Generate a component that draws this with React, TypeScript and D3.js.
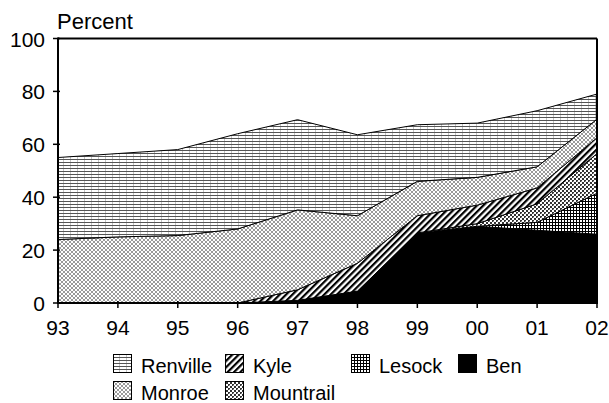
import * as d3 from 'd3';

// ---- data (values per area, bottom of stack first) ----
const years = ['93', '94', '95', '96', '97', '98', '99', '00', '01', '02'];
const ben = [0, 0, 0, 0, 1, 4.5, 26.5, 29, 27.5, 26];
const lesock = [0, 0, 0, 0, 0, 0, 0, 0, 3, 15.5];
const mountrail = [0, 0, 0, 0, 0, 0, 0, 1, 7, 15];
const kyle = [0, 0, 0, 0, 4, 10.5, 6.5, 7, 6, 6];
const monroe = [24, 25, 25.5, 28, 30.2, 18, 13, 10.5, 8, 7];
const renville = [31, 31.5, 32.5, 36, 34.1, 30.6, 21.4, 20.5, 21.2, 9.5];
const yTicks = [0, 20, 40, 60, 80, 100];

const keys = ['Ben', 'Lesock', 'Mountrail', 'Kyle', 'Monroe', 'Renville'];
const seriesValues: Record<string, number[]> = {
  Ben: ben, Lesock: lesock, Mountrail: mountrail, Kyle: kyle, Monroe: monroe, Renville: renville,
};
// legend: [name, column, row]
const legendItems: [string, number, number][] = [
  ['Renville', 0, 0], ['Monroe', 0, 1],
  ['Kyle', 1, 0], ['Mountrail', 1, 1],
  ['Lesock', 2, 0],
  ['Ben', 3, 0],
];

const W = 609;
const H = 403;
const left = 58, right = 597, top = 38.5, bottom = 303;
const font = '"Liberation Sans", Arial, sans-serif';

const fills: Record<string, string> = {
  Ben: '#000',
  Lesock: 'url(#pLesock)',
  Mountrail: 'url(#pMountrail)',
  Kyle: 'url(#pKyle)',
  Monroe: 'url(#pMonroe)',
  Renville: 'url(#pRenville)',
};

export default function App() {
  const table = years.map((y, i) => {
    const row: Record<string, number | string> = { year: y };
    keys.forEach(k => { row[k] = seriesValues[k][i]; });
    return row;
  });

  const stacked = d3.stack<Record<string, number | string>>().keys(keys)(table as any);

  const x = d3.scalePoint<string>().domain(years).range([left, right]);
  const y = d3.scaleLinear().domain([0, 100]).range([bottom, top]);

  const area = d3.area<any>()
    .x((d: any) => x(d.data.year as string)!)
    .y0((d: any) => y(d[0]))
    .y1((d: any) => y(d[1]));

  const colX = [113, 225, 351, 458];
  const rowY = [354, 381];

  // X-shaped pixels in a 4x4 tile -> light diamond lattice
  const monroeDots = [[0, 0], [1, 1], [2, 2], [3, 3], [0, 3], [1, 2], [2, 1], [3, 0]];

  return (
    <svg width={W} height={H} style={{ position: 'absolute', left: 0, top: 0, background: '#fff' }}>
      <defs>
        <pattern id="pRenville" width={7} height={3} patternUnits="userSpaceOnUse">
          <rect width={7} height={3} fill="#fff" />
          <rect x={0} y={0} width={7} height={1} fill="#555" />
          <rect x={0} y={1} width={1} height={2} fill="#c4c4c4" />
        </pattern>
        <pattern id="pMonroe" width={4} height={4} patternUnits="userSpaceOnUse">
          <rect width={4} height={4} fill="#fff" />
          {monroeDots.map(([a, b], i) => (
            <rect key={i} x={a} y={b} width={1} height={1} fill="#9a9a9a" />
          ))}
        </pattern>
        <pattern id="pMountrail" width={4} height={4} patternUnits="userSpaceOnUse">
          <rect width={4} height={4} fill="#fff" />
          <rect x={0} y={0} width={2} height={2} fill="#333" />
          <rect x={2} y={2} width={2} height={2} fill="#333" />
          <rect x={1} y={1} width={1} height={1} fill="#999" />
        </pattern>
        <pattern id="pLesock" width={3} height={3} patternUnits="userSpaceOnUse">
          <rect width={3} height={3} fill="#fff" />
          <rect x={0} y={0} width={3} height={1} fill="#000" />
          <rect x={0} y={0} width={1} height={3} fill="#000" />
        </pattern>
        <pattern id="pKyle" width={4.5} height={4.5} patternUnits="userSpaceOnUse" patternTransform="rotate(45)">
          <rect width={4.5} height={4.5} fill="#fff" />
          <rect x={0} y={0} width={2.2} height={4.5} fill="#000" />
        </pattern>
      </defs>

      {/* areas */}
      {stacked.map(s => (
        <path key={s.key} d={area(s as any) || ''} fill={fills[s.key]} stroke="#000" strokeWidth={1} strokeLinejoin="round" />
      ))}

      {/* frame top / right */}
      <line x1={left} x2={right} y1={top} y2={top} stroke="#000" strokeWidth={2} />
      <line x1={right} x2={right} y1={top} y2={bottom} stroke="#000" strokeWidth={2} />

      {/* y axis */}
      <line x1={left} x2={left} y1={top - 1} y2={bottom + 1} stroke="#000" strokeWidth={2} />
      {yTicks.map(t => (
        <g key={t}>
          <line x1={left - 5} x2={left + 2} y1={y(t)} y2={y(t)} stroke="#000" strokeWidth={1.5} />
          <text x={45} y={y(t) + 8} textAnchor="end" fontFamily={font} fontSize={21} fill="#000">{t}</text>
        </g>
      ))}
      <text x={57} y={29} fontFamily={font} fontSize={22} fill="#000">Percent</text>

      {/* x axis */}
      <line x1={left - 1} x2={right + 1} y1={bottom} y2={bottom} stroke="#000" strokeWidth={2} />
      {years.map(yr => (
        <g key={yr}>
          <line x1={x(yr)} x2={x(yr)} y1={bottom - 2} y2={bottom + 5} stroke="#000" strokeWidth={1.5} />
          <text x={x(yr)} y={335} textAnchor="middle" fontFamily={font} fontSize={21} fill="#000">{yr}</text>
        </g>
      ))}

      {/* legend */}
      {legendItems.map(([k, c, r]) => {
        const cx = colX[c];
        const cy = rowY[r];
        return (
          <g key={k}>
            <rect x={cx + 0.5} y={cy + 0.5} width={18} height={18} fill={fills[k]} stroke="#000" strokeWidth={1} />
            <text x={cx + 28} y={cy + 19} fontFamily={font} fontSize={20} fill="#000">{k}</text>
          </g>
        );
      })}
    </svg>
  );
}
